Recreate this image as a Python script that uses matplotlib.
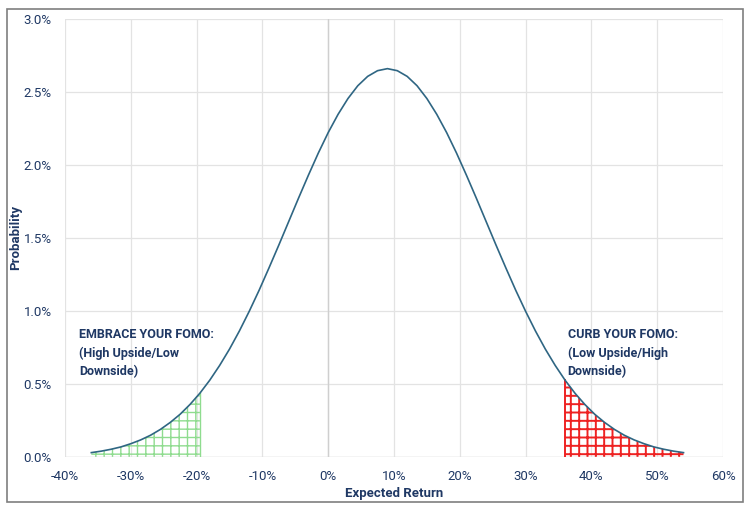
import matplotlib.pyplot as plt
from matplotlib.patches import Rectangle
from matplotlib.ticker import FuncFormatter, MultipleLocator

# expected return (%) and probability (%)
returns = [-36.0, -34.5, -33.0, -31.5, -30.0, -28.5, -27.0, -25.5, -24.0, -22.5,
           -21.0, -19.5, -18.0, -16.5, -15.0, -13.5, -12.0, -10.5, -9.0, -7.5,
           -6.0, -4.5, -3.0, -1.5, 0.0, 1.5, 3.0, 4.5, 6.0, 7.5,
           9.0, 10.5, 12.0, 13.5, 15.0, 16.5, 18.0, 19.5, 21.0, 22.5,
           24.0, 25.5, 27.0, 28.5, 30.0, 31.5, 33.0, 34.5, 36.0, 37.5,
           39.0, 40.5, 42.0, 43.5, 45.0, 46.5, 48.0, 49.5, 51.0, 52.5, 54.0]
prob = [0.030, 0.040, 0.053, 0.069, 0.091, 0.117, 0.149, 0.189, 0.237, 0.293,
        0.360, 0.437, 0.526, 0.627, 0.739, 0.863, 0.998, 1.142, 1.295, 1.452,
        1.613, 1.774, 1.931, 2.082, 2.222, 2.347, 2.455, 2.543, 2.607, 2.646,
        2.660, 2.646, 2.607, 2.543, 2.455, 2.347, 2.222, 2.082, 1.931, 1.774,
        1.613, 1.452, 1.295, 1.142, 0.998, 0.863, 0.739, 0.627, 0.526, 0.437,
        0.360, 0.293, 0.237, 0.189, 0.149, 0.117, 0.091, 0.069, 0.053, 0.040, 0.030]

left_tail = (-36.0, -19.5)
right_tail = (36.0, 54.0)

navy = '#1f3864'
curve_color = '#2f6683'

plt.rcParams['font.family'] = ['Roboto', 'DejaVu Sans']
plt.rcParams['hatch.linewidth'] = 1.0

dpi = 100
fig = plt.figure(figsize=(753/dpi, 511/dpi), dpi=dpi)
ax = fig.add_axes([65/753, 1 - 457/511, (723 - 65)/753, (457 - 19)/511])

# green tail
lx = [x for x in returns if left_tail[0] <= x <= left_tail[1]]
ly = [p for x, p in zip(returns, prob) if left_tail[0] <= x <= left_tail[1]]
ax.fill_between(lx, 0, ly, facecolor='none', edgecolor='#8fdc8f', hatch='++', linewidth=0)
ax.plot([lx[-1], lx[-1]], [0, ly[-1]], color='#8fdc8f', lw=1)

# red tail
plt.rcParams['hatch.linewidth'] = 1.4
rx = [x for x in returns if right_tail[0] <= x <= right_tail[1]]
ry = [p for x, p in zip(returns, prob) if right_tail[0] <= x <= right_tail[1]]
ax.fill_between(rx, 0, ry, facecolor='none', edgecolor='#ee2222', hatch='++', linewidth=0)
ax.plot([rx[0], rx[0]], [0, ry[0]], color='#ee2222', lw=1.4)

ax.plot(returns, prob, color=curve_color, lw=1.2, zorder=5)

ax.set_xlim(-40, 60)
ax.set_ylim(0, 3.0)
ax.xaxis.set_major_locator(MultipleLocator(10))
ax.yaxis.set_major_locator(MultipleLocator(0.5))
ax.xaxis.set_major_formatter(FuncFormatter(lambda v, p: f'{v:.0f}%'))
ax.yaxis.set_major_formatter(FuncFormatter(lambda v, p: f'{v:.1f}%'))
ax.grid(color='#e3e3e3', lw=0.9)
ax.axvline(0, color='#cfcfcf', lw=1.0, zorder=1)
ax.set_axisbelow(True)
for s in ax.spines.values():
    s.set_visible(False)
ax.axhline(0, color='#d9d9d9', lw=1.0, zorder=1)
ax.tick_params(length=0, labelsize=9.5, colors=navy, pad=9)
ax.tick_params(axis='y', pad=9.5)

fig.text(394/753, 1 - 493/511, 'Expected Return', fontsize=9.5, fontweight='bold',
         color=navy, ha='center', va='center')
fig.text(16/753, 1 - 237/511, 'Probability', rotation=90, fontsize=9.5,
         fontweight='bold', color=navy, ha='center', va='center')

ax.text(-37.9, 0.885, 'EMBRACE YOUR FOMO:\n(High Upside/Low\nDownside)', fontsize=9,
        fontweight='bold', color=navy, va='top', ha='left', linespacing=1.55)
ax.text(36.4, 0.885, 'CURB YOUR FOMO:\n(Low Upside/High\nDownside)', fontsize=9,
        fontweight='bold', color=navy, va='top', ha='left', linespacing=1.55)

fig.patches.append(Rectangle((7/753, 1 - 502/511), (743 - 7)/753, (502 - 9)/511,
                             transform=fig.transFigure, fill=False,
                             edgecolor='#7f7f7f', lw=1.2))

plt.savefig('out.png', dpi=dpi)
